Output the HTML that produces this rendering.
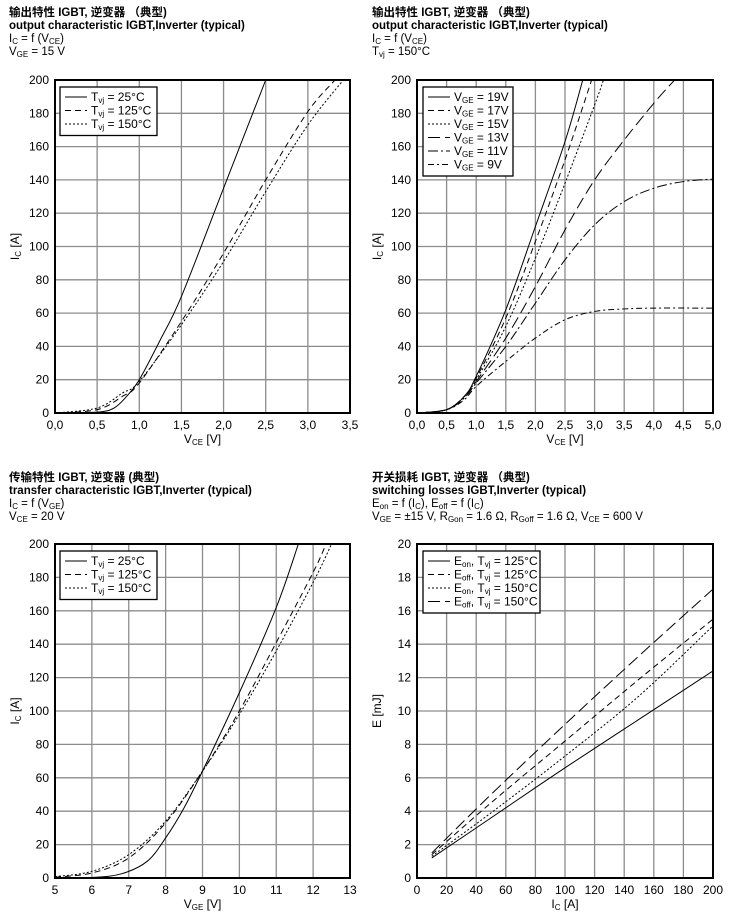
<!DOCTYPE html>
<html><head><meta charset="utf-8"><style>
body{margin:0;background:#fff;width:740px;height:915px;overflow:hidden}
svg{display:block}
text{font-family:"Liberation Sans","Noto Sans CJK SC",sans-serif;fill:#000}
</style></head><body>
<svg id="s" width="740" height="915" xmlns="http://www.w3.org/2000/svg"></svg>
<script>
const S=document.getElementById('s');let h='';
const dashes={solid:'',dash:'6,4',dot:'2,2',long:'12,5',dd:'10,3,2,3',dd2:'6,3,2,3'};
function title(x,y,lines){
 lines.forEach((l,i)=>{h+=`<text x="${x}" y="${y+i*13}" font-size="11.5" ${i<2?'font-weight="bold"':''}>${l}</text>`;});
}
function chart(o){
 const {L,T,W,H,x0,x1,xs,y0,y1,ys,xl,yl,xf,yf}=o;
 const X=v=>L+(v-x0)/(x1-x0)*W, Y=v=>T+H-(v-y0)/(y1-y0)*H;
 for(let v=x0;v<=x1+1e-9;v+=xs){const px=X(v);h+=`<line x1="${px}" y1="${T}" x2="${px}" y2="${T+H}" stroke="#8c8c8c" stroke-width="1.3"/>`;
  h+=`<text x="${px}" y="${T+H+16}" font-size="12" text-anchor="middle">${xf(v)}</text>`;}
 for(let v=y0;v<=y1+1e-9;v+=ys){const py=Y(v);h+=`<line x1="${L}" y1="${py}" x2="${L+W}" y2="${py}" stroke="#8c8c8c" stroke-width="1.3"/>`;
  h+=`<text x="${L-6}" y="${py+4}" font-size="12" text-anchor="end">${yf(v)}</text>`;}
 h+=`<rect x="${L}" y="${T}" width="${W}" height="${H}" fill="none" stroke="#000" stroke-width="2"/>`;
 h+=`<text x="${L+W/2}" y="${T+H+30}" font-size="12" text-anchor="middle">${xl}</text>`;
 h+=`<text transform="translate(${L-36},${T+H/2}) rotate(-90)" font-size="12" text-anchor="middle">${yl}</text>`;
 h+=`<clipPath id="c${L}${T}"><rect x="${L}" y="${T}" width="${W}" height="${H}"/></clipPath><g clip-path="url(#c${L}${T})">`;
 o.series.forEach(s=>{
  const p=s.d.map(a=>[X(a[0]),Y(a[1])]);let d=`M${p[0][0]},${p[0][1]}`;
  for(let i=0;i<p.length-1;i++){const a=p[i-1]||p[i],b=p[i],c=p[i+1],e=p[i+2]||c;
   d+=` C${b[0]+(c[0]-a[0])/6},${b[1]+(c[1]-a[1])/6} ${c[0]-(e[0]-b[0])/6},${c[1]-(e[1]-b[1])/6} ${c[0]},${c[1]}`;}
  h+=`<path d="${d}" fill="none" stroke="#000" stroke-width="1" stroke-dasharray="${dashes[s.t]}"/>`;
 });
 h+='</g>';
 const lg=o.legend;
 h+=`<rect x="${lg.x}" y="${lg.y}" width="${lg.w}" height="${lg.rows.length*13.5+8}" fill="#fff" stroke="#000" stroke-width="1.3"/>`;
 lg.rows.forEach((r,i)=>{const y=lg.y+10+i*13.5;
  h+=`<line x1="${lg.x+5}" y1="${y}" x2="${lg.x+27}" y2="${y}" stroke="#000" stroke-dasharray="${dashes[r[0]]}"/>`;
  h+=`<text x="${lg.x+31}" y="${y+4}" font-size="12">${r[1]}</text>`;});
}
const sub=t=>`<tspan font-size="8" baseline-shift="-2">${t}</tspan>`;
const c1=v=>v.toFixed(1).replace('.',',');
const T25='T'+sub('vj')+' = 25°C',T125='T'+sub('vj')+' = 125°C',T150='T'+sub('vj')+' = 150°C';
title(9,16,['输出特性 IGBT, 逆变器 （典型)','output characteristic IGBT,Inverter (typical)','I'+sub('C')+' = f (V'+sub('CE')+')','V'+sub('GE')+' = 15 V']);
title(372,16,['输出特性 IGBT, 逆变器 （典型)','output characteristic IGBT,Inverter (typical)','I'+sub('C')+' = f (V'+sub('CE')+')','T'+sub('vj')+' = 150°C']);
title(9,481,['传输特性 IGBT, 逆变器 (典型)','transfer characteristic IGBT,Inverter (typical)','I'+sub('C')+' = f (V'+sub('GE')+')','V'+sub('CE')+' = 20 V']);
title(372,481,['开关损耗 IGBT, 逆变器 （典型)','switching losses IGBT,Inverter (typical)','E'+sub('on')+' = f (I'+sub('C')+'), E'+sub('off')+' = f (I'+sub('C')+')','V'+sub('GE')+' = ±15 V, R'+sub('Gon')+' = 1.6 Ω, R'+sub('Goff')+' = 1.6 Ω, V'+sub('CE')+' = 600 V']);
chart({L:55,T:80,W:295,H:333,x0:0,x1:3.5,xs:0.5,y0:0,y1:200,ys:20,xl:'V'+sub('CE')+' [V]',yl:'I'+sub('C')+' [A]',xf:c1,yf:v=>v,
 series:[{t:'solid',d:[[0,0],[0.5,0.5],[0.7,3],[0.85,10],[1,20],[1.25,44],[1.5,70],[2,135],[2.5,200],[2.6,213]]},
 {t:'dash',d:[[0,0],[0.5,2],[0.8,10],[1,18],[1.5,55],[2,96],[2.5,140],[3,181],[3.32,200],[3.4,206]]},
 {t:'dot',d:[[0,0],[0.5,3],[0.8,12],[1,19],[1.5,53],[2,91],[2.5,133],[3,173],[3.42,200],[3.5,205]]}],
 legend:{x:60,y:87,w:97,rows:[['solid',T25],['dash',T125],['dot',T150]]}});
const V=n=>'V'+sub('GE')+' = '+n+'V';
chart({L:417,T:80,W:296,H:333,x0:0,x1:5,xs:0.5,y0:0,y1:200,ys:20,xl:'V'+sub('CE')+' [V]',yl:'I'+sub('C')+' [A]',xf:c1,yf:v=>v,
 series:[{t:'solid',d:[[0,0],[0.5,2],[0.8,10],[1,22],[1.5,62],[2,112],[2.5,163],[2.8,200],[2.9,213]]},
 {t:'dash',d:[[0,0],[0.5,2],[0.8,10],[1,21],[1.5,57],[2,103],[2.5,152],[2.95,200],[3.05,211]]},
 {t:'dot',d:[[0,0],[0.5,2],[0.8,10],[1,20],[1.5,52],[2,93],[2.5,138],[3,185],[3.15,200],[3.25,210]]},
 {t:'long',d:[[0,0],[0.5,2],[0.8,10],[1,19],[1.5,45],[2,76],[2.5,110],[3,140],[3.5,164],[4,186],[4.3,198],[4.5,205]]},
 {t:'dd',d:[[0,0],[0.5,2],[0.8,9],[1,18],[1.5,40],[2,66],[2.5,92],[3,113],[3.5,127],[4,135],[4.5,139],[5,140.5]]},
 {t:'dd2',d:[[0,0],[0.5,2],[0.8,8],[1,16],[1.5,31],[2,45],[2.5,56],[3,61],[3.5,62.5],[4,63],[5,63]]}],
 legend:{x:423,y:87,w:90,rows:[['solid',V(19)],['dash',V(17)],['dot',V(15)],['long',V(13)],['dd',V(11)],['dd2',V(9)]]}});
chart({L:55,T:544,W:295,H:334,x0:5,x1:13,xs:1,y0:0,y1:200,ys:20,xl:'V'+sub('GE')+' [V]',yl:'I'+sub('C')+' [A]',xf:v=>v,yf:v=>v,
 series:[{t:'solid',d:[[5,0],[6,0.3],[6.8,2.5],[7.5,10],[8,24],[8.5,42],[9,64],[10,111],[11,162],[11.6,200],[11.7,207]]},
 {t:'dash',d:[[5,0.5],[6,3],[7,12],[8,33],[9,64],[10,100],[11,141],[12,183],[12.35,200],[12.45,206]]},
 {t:'dot',d:[[5,0.8],[6,4],[7,14],[8,34],[9,64],[10,98],[11,136],[12,177],[12.5,200],[12.6,205]]}],
 legend:{x:60,y:551,w:97,rows:[['solid',T25],['dash',T125],['dot',T150]]}});
chart({L:417,T:544,W:296,H:334,x0:0,x1:200,xs:20,y0:0,y1:20,ys:2,xl:'I'+sub('C')+' [A]',yl:'E [mJ]',xf:v=>v,yf:v=>v,
 series:[{t:'solid',d:[[10,1.2],[50,3.6],[100,6.6],[150,9.5],[200,12.4]]},
 {t:'dash',d:[[10,1.4],[50,4.5],[100,8.2],[150,11.9],[200,15.5]]},
 {t:'dot',d:[[10,1.3],[50,3.9],[100,7.3],[150,10.9],[200,15.1]]},
 {t:'long',d:[[10,1.5],[50,5.0],[100,9.2],[150,13.3],[200,17.3]]}],
 legend:{x:423,y:551,w:117,rows:[['solid','E'+sub('on')+', '+T125],['dash','E'+sub('off')+', '+T125],['dot','E'+sub('on')+', '+T150],['long','E'+sub('off')+', '+T150]]}});
S.innerHTML=h;
</script>
</body></html>
